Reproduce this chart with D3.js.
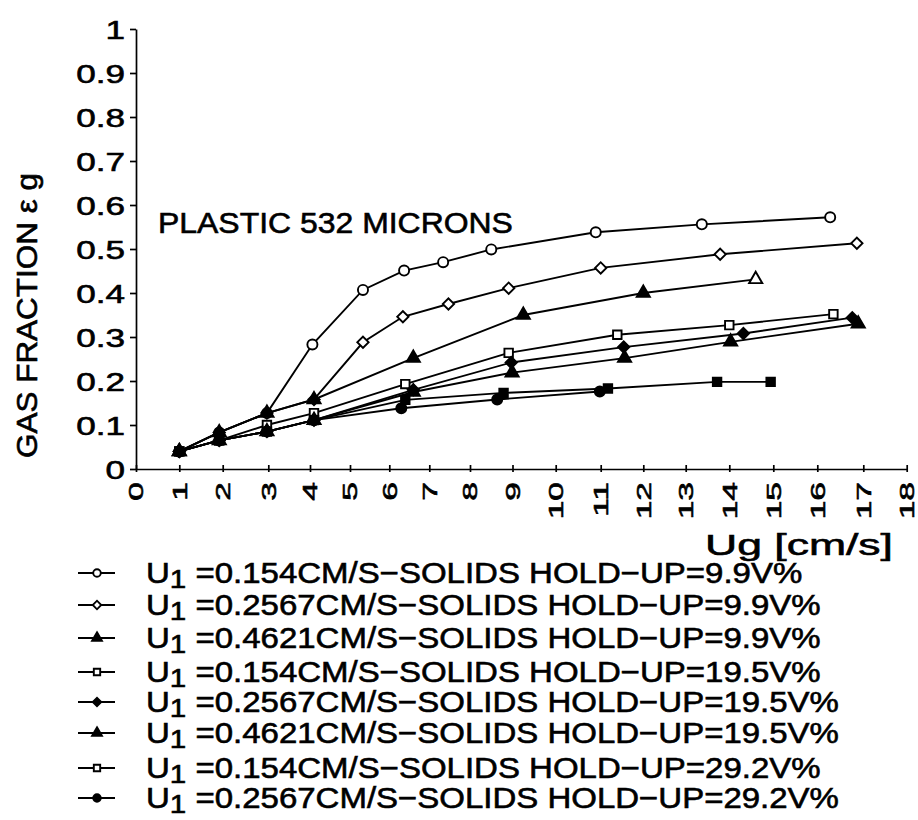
<!DOCTYPE html>
<html><head><meta charset="utf-8">
<script src="https://cdn.jsdelivr.net/npm/d3@7"></script>
<style>body{margin:0;background:#fff}svg{display:block}text{font-family:"Liberation Sans",Arial,sans-serif;fill:#000;stroke:#000;stroke-width:0.6px}</style>
</head><body>
<svg id="c" width="918" height="820"></svg>
<script>
// ---------------- DATA ----------------
const xTickValues = d3.range(0, 19);
const yTickValues = [0, 0.1, 0.2, 0.3, 0.4, 0.5, 0.6, 0.7, 0.8, 0.9, 1];
const yTickLabels = ["0", "0.1", "0.2", "0.3", "0.4", "0.5", "0.6", "0.7", "0.8", "0.9", "1"];

const s1x = [1, 1.92, 2.97, 4.06, 5.33, 6.37, 7.34, 8.5, 10.89, 13.37, 16.28];
const s1y = [0.04, 0.083, 0.127, 0.283, 0.407, 0.451, 0.47, 0.499, 0.538, 0.556, 0.572];
const s2x = [1, 1.92, 2.97, 4.1, 5.33, 6.34, 7.47, 8.91, 11.0, 13.79, 16.86];
const s2y = [0.04, 0.083, 0.127, 0.158, 0.288, 0.346, 0.375, 0.411, 0.457, 0.488, 0.513];
const s3x = [1, 1.92, 2.97, 4.1, 6.6, 9.25, 12.0, 14.6];
const s3y = [0.04, 0.083, 0.127, 0.158, 0.252, 0.35, 0.40, 0.431];
const s4x = [1, 1.92, 2.97, 4.1, 6.4, 8.91, 11.39, 14.0, 16.35];
const s4y = [0.04, 0.065, 0.1, 0.127, 0.193, 0.264, 0.305, 0.327, 0.352];
const s5x = [1, 1.92, 2.97, 4.1, 6.6, 8.97, 11.54, 14.32, 16.76];
const s5y = [0.04, 0.065, 0.085, 0.111, 0.18, 0.242, 0.277, 0.308, 0.344];
const s6x = [1, 1.92, 2.97, 4.1, 6.6, 8.99, 11.56, 14.03, 16.89];
const s6y = [0.04, 0.065, 0.085, 0.111, 0.175, 0.219, 0.252, 0.289, 0.33];
const s7x = [1, 1.92, 2.97, 4.1, 6.4, 8.79, 11.17, 13.72, 14.94];
const s7y = [0.04, 0.065, 0.085, 0.111, 0.157, 0.173, 0.183, 0.198, 0.198];
const s8x = [1, 1.92, 2.97, 4.1, 6.3, 8.64, 10.98];
const s8y = [0.04, 0.065, 0.085, 0.111, 0.138, 0.158, 0.176];

const seriesU = ["0.154", "0.2567", "0.4621", "0.154", "0.2567", "0.4621", "0.154", "0.2567"];
const seriesHold = ["9.9", "9.9", "9.9", "19.5", "19.5", "19.5", "29.2", "29.2"];

const xTitle = "Ug  [cm/s]";
const yTitle = "GAS  FRACTION \u03B5 g";
const annotation = "PLASTIC  532  MICRONS";

// ---------------- LAYOUT / STYLE ----------------
const seriesX = [s1x, s2x, s3x, s4x, s5x, s6x, s7x, s8x];
const seriesY = [s1y, s2y, s3y, s4y, s5y, s6y, s7y, s8y];
const markers = [
  {shape: "circle", fill: false}, {shape: "diamond", fill: false}, {shape: "triangle", fill: true, openLast: true},
  {shape: "square", fill: false}, {shape: "diamond", fill: true}, {shape: "triangle", fill: true},
  {shape: "square", fill: true}, {shape: "circle", fill: true}
];
const legendMarkers = [
  {shape: "circle", fill: false}, {shape: "diamond", fill: false}, {shape: "triangle", fill: true},
  {shape: "square", fill: false}, {shape: "diamond", fill: true}, {shape: "triangle", fill: true},
  {shape: "square", fill: false}, {shape: "circle", fill: true}
];

// axis calibration of the original plotter (slightly uneven tick spacing)
const xTickPx = [136, 179.3, 222.7, 268.3, 310, 350, 389.3, 429.3, 470, 512.5, 555.7, 600.7, 643.3, 685.7, 729.3, 773.3, 817.3, 863.3, 906.7];
const x = d3.scaleLinear().domain(xTickValues).range(xTickPx);
const y = d3.scaleLinear().domain([0, 1]).range([469, 29]);

const svg = d3.select("#c");

function symPath(shape, size) {
  const map = {circle: d3.symbolCircle, square: d3.symbolSquare, diamond: d3.symbolSquare, triangle: d3.symbolTriangle};
  return d3.symbol(map[shape], size)();
}
function drawMarker(g, shape, fill, cx, cy, scale) {
  const sizes = {circle: 80, square: 72, diamond: 64, triangle: 75};
  const s = sizes[shape] * scale * scale;
  g.append("path")
    .attr("d", symPath(shape, s))
    .attr("transform", `translate(${cx},${cy})` + (shape === "diamond" ? " rotate(45)" : ""))
    .attr("fill", fill ? "#000" : "#fff")
    .attr("stroke", "#000")
    .attr("stroke-width", 1.9);
}

// y axis
const yAxis = d3.axisLeft(y).tickValues(yTickValues).tickSizeInner(6).tickSizeOuter(0).tickFormat(() => "");
const gy = svg.append("g").attr("transform", `translate(${xTickPx[0]},0)`).call(yAxis);
gy.select(".domain").attr("stroke", "#000").attr("stroke-width", 1.7);
gy.selectAll(".tick line").attr("stroke", "#000").attr("stroke-width", 1.7);
gy.selectAll(".tick text").remove();
gy.selectAll(".tick").append("text")
  .attr("x", 0).attr("y", 0).attr("dy", "0.36em")
  .attr("text-anchor", "end")
  .attr("transform", "translate(-11,0) scale(1.35,1)")
  .style("font-size", "26px")
  .text((d, i) => yTickLabels[i]);

// x axis
const xAxis = d3.axisBottom(x).tickValues(xTickValues).tickSizeInner(3).tickSizeOuter(0).tickFormat(() => "");
const gx = svg.append("g").attr("transform", `translate(0,${y(0)})`).call(xAxis);
gx.select(".domain").attr("stroke", "#000").attr("stroke-width", 1.7);
gx.selectAll(".tick line").attr("y1", -4).attr("y2", 3).attr("stroke", "#000").attr("stroke-width", 1.7);
gx.selectAll(".tick text").remove();
gx.selectAll(".tick").append("g")
  .attr("transform", "translate(0,13) rotate(-90) scale(1.6,1)")
  .append("text")
  .attr("x", 0).attr("y", 0).attr("dy", "0.32em")
  .attr("text-anchor", "end")
  .style("font-size", "21px")
  .text(d => String(d));

// stretched text helper
function stretchText(parent, str, xPos, yPos, size, targetW, rotate) {
  const g = parent.append("g");
  const t = g.append("text").attr("x", 0).attr("y", 0).style("font-size", size + "px").text(str);
  const w = t.node().getComputedTextLength();
  const sx = targetW / w;
  g.attr("transform", `translate(${xPos},${yPos})` + (rotate ? ` rotate(${rotate})` : "") + ` scale(${sx},1)`);
  return g;
}

// lines
const line = d3.line().x(d => x(d[0])).y(d => y(d[1]));
seriesX.forEach((xs, i) => {
  const pts = xs.map((v, j) => [v, seriesY[i][j]]);
  svg.append("path").attr("d", line(pts)).attr("fill", "none").attr("stroke", "#000").attr("stroke-width", 1.9);
});
seriesX.forEach((xs, i) => {
  const g = svg.append("g");
  xs.forEach((v, j) => {
    const m = markers[i];
    const filled = m.fill && !(m.openLast && j === xs.length - 1);
    drawMarker(g, m.shape, filled, x(v), y(seriesY[i][j]), 1);
  });
});

// annotation & titles
stretchText(svg, annotation, 158, 233, 29, 355);
stretchText(svg, yTitle, 37, 458, 29, 285, -90);
stretchText(svg, xTitle, 705, 555, 30, 188);

// legend
const legendBase = [583, 615, 648, 682, 712, 743, 778, 808];
const lg = svg.append("g");
const rows = [];
seriesU.forEach((u, i) => {
  const by = legendBase[i];
  const cy = by - 10;
  lg.append("line").attr("x1", 78).attr("x2", 115).attr("y1", cy).attr("y2", cy).attr("stroke", "#000").attr("stroke-width", 2.2);
  drawMarker(lg, legendMarkers[i].shape, legendMarkers[i].fill, 97, cy, 0.75);
  const g = lg.append("g");
  const t = g.append("text").attr("x", 0).attr("y", 0).style("font-size", "29px");
  t.append("tspan").text("U");
  t.append("tspan").attr("dy", 5).style("font-size", "26px").text("1");
  t.append("tspan").attr("dy", -5).text(" =" + u + "CM/S\u2212SOLIDS  HOLD\u2212UP=" + seriesHold[i] + "V%");
  rows.push({g, t, by});
});
const legendScale = 675 / rows[1].t.node().getComputedTextLength();
rows.forEach(r => r.g.attr("transform", `translate(146,${r.by}) scale(${legendScale},1)`));
</script>
</body></html>
